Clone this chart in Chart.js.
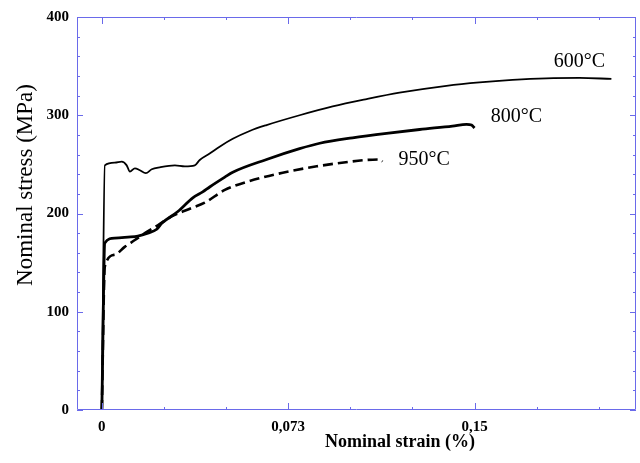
<!DOCTYPE html>
<html>
<head>
<meta charset="utf-8">
<title>Nominal stress vs strain</title>
<script src="https://cdn.jsdelivr.net/npm/chart.js@4.4.1/dist/chart.umd.min.js"></script>
<style>
    html, body { margin: 0; padding: 0; background: #ffffff; }
    #wrap { width: 640px; height: 463px; }
</style>
</head>
<body>
<div id="wrap"><canvas id="stressChart" width="640" height="463"></canvas></div>
<script>
// Curves (strain, stress in MPa)
const strain600 = [0, 0.0012, 0.0052, 0.008, 0.010, 0.0113, 0.0133, 0.0153, 0.0177, 0.0201, 0.0233, 0.0294, 0.0334, 0.0374, 0.0394, 0.0434, 0.0474, 0.0527, 0.0595, 0.0663, 0.0796, 0.0929, 0.1066, 0.1198, 0.1387, 0.152, 0.1653, 0.1789, 0.1922, 0.2051];
const stress600 = [0, 249, 251.7, 252.7, 249, 242.6, 246, 244, 241, 245, 247, 249, 248, 249, 254.5, 261, 268, 276, 284, 290, 300, 309, 316.5, 323, 330, 333.5, 336, 337.6, 338, 337];

const strain800 = [0, 0.0012, 0.0052, 0.0105, 0.0145, 0.0185, 0.0221, 0.0241, 0.0306, 0.0366, 0.0406, 0.0434, 0.0495, 0.0527, 0.0663, 0.0796, 0.0877, 0.1009, 0.1146, 0.1279, 0.1411, 0.1468, 0.1488, 0.15];
const stress800 = [0, 170, 175, 176, 177, 180, 184, 190, 202, 216, 222, 227, 237, 242, 255, 266, 271.5, 277, 281.6, 285.5, 289, 290.8, 290, 287];

const strain950 = [0, 0.0012, 0.0052, 0.0092, 0.0133, 0.0173, 0.0225, 0.0281, 0.0362, 0.0414, 0.0495, 0.0595, 0.0728, 0.0865, 0.0997, 0.1066, 0.1118, 0.113];
const stress950 = [0, 146, 158, 166, 173, 180, 188, 197, 205.6, 211, 224, 233, 241.5, 248, 252.7, 254.5, 255, 253];

const curveLabels = ["600°C", "800°C", "950°C"];

// Axis ticks
const xTickValues = [0, 0.025, 0.05, 0.075, 0.1, 0.125, 0.15, 0.175, 0.2];
const xTickLabels = ["0", "", "", "0,073", "", "", "0,15", "", ""];
const yTickValues = [0, 20, 40, 60, 80, 100, 120, 140, 160, 180, 200, 220, 240, 260, 280, 300, 320, 340, 360, 380, 400];
const yTickLabels = ["0", "", "", "", "", "100", "", "", "", "", "200", "", "", "", "", "300", "", "", "", "", "400"];

const toPoints = (xs, ys) => xs.map((x, i) => ({ x: x, y: ys[i] }));

// Where the curve names sit (data coordinates)
const labelSpots = [
    { x: 0.1922, y: 354 },
    { x: 0.1669, y: 298 },
    { x: 0.1297, y: 255 }
];

const serif = "'Liberation Serif', 'DejaVu Serif', serif";

// frame + inward ticks on all four sides, like the original plot
const frameTicks = {
    id: "frameTicks",
    afterDraw(chart) {
        const ctx = chart.ctx;
        const a = chart.chartArea;
        const xs = chart.scales.x;
        const ys = chart.scales.y;
        ctx.save();
        ctx.strokeStyle = "#6a6aea";
        ctx.lineWidth = 1;
        ctx.beginPath();
        ctx.rect(a.left + 0.5, a.top + 0.5, a.right - a.left - 1, a.bottom - a.top - 1);
        ctx.stroke();

        ctx.beginPath();
        xTickValues.forEach((v, i) => {
            const px = Math.round(xs.getPixelForValue(v)) + 0.5;
            const len = xTickLabels[i] ? 7 : 3;
            ctx.moveTo(px, a.bottom);
            ctx.lineTo(px, a.bottom - len);
            ctx.moveTo(px, a.top);
            ctx.lineTo(px, a.top + len);
        });
        yTickValues.forEach((v, i) => {
            const py = Math.round(ys.getPixelForValue(v)) + 0.5;
            const len = yTickLabels[i] ? 6 : 3;
            ctx.moveTo(a.left, py);
            ctx.lineTo(a.left + len, py);
            ctx.moveTo(a.right, py);
            ctx.lineTo(a.right - len, py);
        });
        ctx.stroke();
        ctx.restore();
    }
};

// temperature labels and axis titles
const textLayer = {
    id: "textLayer",
    afterDraw(chart) {
        const ctx = chart.ctx;
        const xs = chart.scales.x;
        const ys = chart.scales.y;
        const a = chart.chartArea;
        ctx.save();
        ctx.fillStyle = "#000000";
        ctx.textAlign = "center";
        ctx.textBaseline = "middle";
        ctx.font = "20px " + serif;
        curveLabels.forEach((txt, i) => {
            ctx.fillText(txt, xs.getPixelForValue(labelSpots[i].x), ys.getPixelForValue(labelSpots[i].y));
        });

        ctx.font = "bold 18px " + serif;
        ctx.fillText("Nominal strain (%)", a.left + 323, a.bottom + 32);

        ctx.translate(a.left - 51, a.top + 168);
        ctx.rotate(-Math.PI / 2);
        ctx.font = "23px " + serif;
        ctx.fillText("Nominal stress (MPa)", 0, 0);
        ctx.restore();
    }
};

const lineStyle = {
    showLine: true,
    borderColor: "#000000",
    pointRadius: 0,
    cubicInterpolationMode: "monotone"
};

new Chart(document.getElementById("stressChart").getContext("2d"), {
    type: "scatter",
    data: {
        datasets: [
            { ...lineStyle, label: curveLabels[0], data: toPoints(strain600, stress600), borderWidth: 1.8 },
            { ...lineStyle, label: curveLabels[1], data: toPoints(strain800, stress800), borderWidth: 2.8 },
            { ...lineStyle, label: curveLabels[2], data: toPoints(strain950, stress950), borderWidth: 2.6, borderDash: [10, 5] }
        ]
    },
    options: {
        responsive: false,
        animation: false,
        layout: { padding: { left: 17, right: 4, top: 17, bottom: 0 } },
        plugins: {
            legend: { display: false },
            tooltip: { enabled: false }
        },
        scales: {
            x: {
                type: "linear",
                min: -0.01,
                max: 0.215,
                grid: { display: false, drawTicks: false },
                border: { display: false },
                afterBuildTicks: scale => { scale.ticks = xTickValues.map(v => ({ value: v })); },
                afterFit: scale => { scale.height = 53; },
                ticks: {
                    autoSkip: false,
                    maxRotation: 0,
                    padding: 8,
                    color: "#000000",
                    font: { family: serif, size: 15, weight: "bold" },
                    callback: (value, index) => xTickLabels[index]
                }
            },
            y: {
                type: "linear",
                min: 0,
                max: 400,
                grid: { display: false, drawTicks: false },
                border: { display: false },
                afterBuildTicks: scale => { scale.ticks = yTickValues.map(v => ({ value: v })); },
                afterFit: scale => { scale.width = 60; },
                ticks: {
                    autoSkip: false,
                    padding: 8,
                    color: "#000000",
                    font: { family: serif, size: 15, weight: "bold" },
                    callback: (value, index) => yTickLabels[index]
                }
            }
        }
    },
    plugins: [frameTicks, textLayer]
});
</script>
</body>
</html>
